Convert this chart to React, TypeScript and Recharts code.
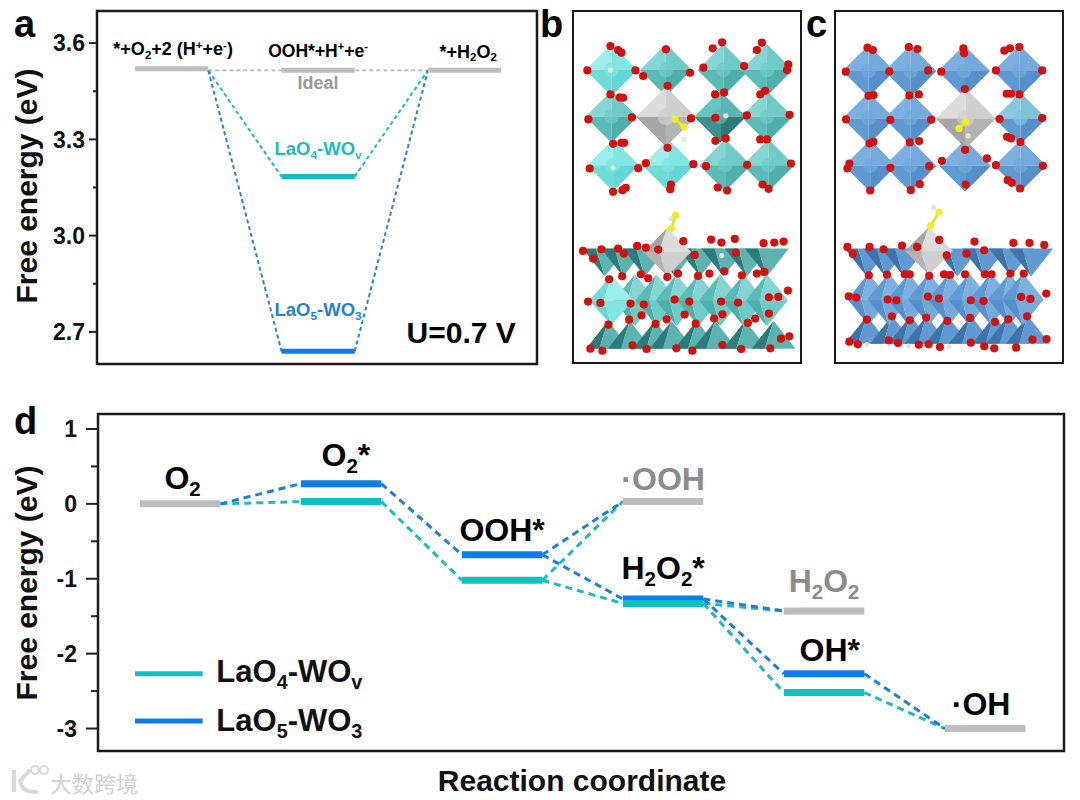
import React from "react";
import {
  LineChart,
  Line,
  XAxis,
  YAxis,
  ReferenceArea,
  ReferenceDot,
  ScatterChart,
  Scatter,
} from "recharts";

const FONT = "'Liberation Sans', Arial, sans-serif";
const CYAN = "#10c0c0";
const BLUE = "#0f7ceb";
const GREY = "#bdbdbd";
const GREY_TEXT = "#8c8c8c";

type Pt = [number, number];

// panel a: U=0.7 V ORR profile
const aTicks = [3.6, 3.45, 3.3, 3.15, 3.0, 2.85, 2.7];
const aMajor = [3.6, 3.3, 3.0, 2.7];
const aIdealLevels: Pt[] = [[0, 3.52], [2, 3.515], [4, 3.515]];
const aLao4Level: Pt = [2, 3.184];
const aLao5Level: Pt = [2, 2.64];
const aIdealLink: Pt[] = [[1, 3.515], [2, 3.515], [3, 3.515], [4, 3.515]];
const aLao4Links: Pt[][] = [
  [[1, 3.515], [2, 3.184]],
  [[3, 3.184], [4, 3.515]],
];
const aLao5Links: Pt[][] = [
  [[1, 3.515], [2, 2.64]],
  [[3, 2.64], [4, 3.515]],
];

// panel d: full reaction pathway
const dTicks = [1, 0.5, 0, -0.5, -1, -1.5, -2, -2.5, -3];
const dMajor = [1, 0, -1, -2, -3];
const dGasLevels: Pt[] = [[0, 0], [6, 0.03], [8, -1.43], [10, -3]];
const dLao4Levels: Pt[] = [[2, 0.03], [4, -1.02], [6, -1.33], [8, -2.52]];
const dLao5Levels: Pt[] = [[2, 0.27], [4, -0.68], [6, -1.27], [8, -2.27]];
const dLao4Links: Pt[][] = [
  [[1, 0], [2, 0.03]],
  [[3, 0.03], [4, -1.02]],
  [[5, -1.02], [6, 0.03]],
  [[5, -1.02], [6, -1.33]],
  [[7, -1.33], [8, -1.43]],
  [[7, -1.33], [8, -2.52]],
  [[9, -2.52], [10, -3]],
];
const dLao5Links: Pt[][] = [
  [[1, 0], [2, 0.27]],
  [[3, 0.27], [4, -0.68]],
  [[5, -0.68], [6, 0.03]],
  [[5, -0.68], [6, -1.27]],
  [[7, -1.27], [8, -1.43]],
  [[7, -1.27], [8, -2.27]],
  [[9, -2.27], [10, -3]],
];

// structure panels, positions
const bTopOcta: Pt[] = [[318, 210], [490, 210], [620, 210], [155, 350], [620, 350], [495, 495], [625, 495]];
const bTopLight: Pt[] = [[155, 210], [160, 495], [325, 495]];
const bTopDark: Pt[] = [[480, 350]];
const bTopGrey: Pt[] = [[318, 350]];
const bSideTop: Pt[] = [[135, 745], [190, 745], [255, 745], [345, 745], [420, 745], [490, 745], [560, 745], [620, 745]];
const bSideMid: Pt[] = [[225, 900], [290, 900], [350, 900], [415, 900], [480, 900], [550, 900], [620, 900]];
const bSideLight: Pt[] = [[155, 900]];
const bSideLow: Pt[] = [[145, 1045], [210, 1045], [285, 1045], [335, 1045], [410, 1045], [465, 1045], [555, 1045], [640, 1045]];
const bOxygen: Pt[] = [
  [152, 138], [175, 150], [185, 158], [318, 148], [458, 145], [486, 127], [605, 128], [590, 150],
  [83, 211], [227, 211], [250, 228], [390, 218], [430, 203], [552, 198], [684, 193], [680, 210],
  [152, 283], [180, 292], [190, 293], [323, 257], [465, 283], [492, 277], [600, 283], [615, 272],
  [86, 358], [216, 352], [393, 355], [466, 353], [560, 346], [688, 344],
  [160, 431], [185, 428], [193, 428], [323, 443], [466, 422], [497, 415], [600, 418], [620, 418],
  [90, 505], [235, 504], [258, 489], [400, 492], [438, 498], [561, 494], [692, 490],
  [160, 575], [188, 570], [198, 563], [333, 553], [331, 567], [473, 562], [501, 571], [607, 553], [625, 566],
  [70, 752], [100, 775], [125, 747], [175, 745], [192, 760], [232, 737], [258, 742], [295, 748], [370, 723], [404, 764], [453, 718], [484, 727], [524, 716], [527, 757], [610, 729], [642, 727], [670, 724],
  [148, 837], [187, 828], [243, 822], [265, 834], [322, 830], [354, 820], [414, 827], [448, 820], [493, 813], [545, 825], [590, 820], [612, 815],
  [85, 904], [122, 908], [212, 910], [252, 913], [344, 898], [388, 904], [483, 904], [534, 907], [626, 891], [654, 890], [683, 871],
  [146, 973], [208, 958], [245, 945], [287, 971], [320, 957], [374, 943], [407, 970], [462, 955], [487, 942], [563, 968], [585, 955], [626, 940],
  [92, 1045], [128, 1051], [218, 1035], [260, 1046], [349, 1044], [397, 1051], [487, 1034], [543, 1046], [630, 1044], [662, 1015], [687, 1008],
];
const bAdsorbates: Pt[][] = [[[345, 357], [372, 380]], [[347, 645], [334, 685]]];
const bHydrogen: Pt[] = [[372, 418], [333, 655], [152, 210], [497, 347], [160, 503], [485, 766], [280, 1053], [555, 1052]];

const cTopOcta: Pt[] = [[925, 213], [1050, 213], [1210, 213], [1375, 213], [925, 355], [1050, 355], [930, 497], [1050, 497], [1213, 497], [1378, 497]];
const cTopLight: Pt[] = [[1378, 355]];
const cTopGrey: Pt[] = [[1215, 355]];
const cSideTop: Pt[] = [[920, 745], [975, 745], [1030, 745], [1190, 745], [1270, 745], [1350, 745], [1410, 745]];
const cSideMid: Pt[] = [[925, 897], [985, 897], [1045, 897], [1105, 897], [1165, 897], [1225, 897], [1290, 897], [1345, 897], [1385, 897]];
const cSideLow: Pt[] = [[920, 1030], [995, 1030], [1050, 1030], [1098, 1030], [1160, 1030], [1230, 1030], [1300, 1030], [1342, 1030], [1400, 1030]];
const cOxygen: Pt[] = [
  [922, 143], [938, 150], [1045, 141], [1071, 147], [1208, 145], [1210, 160], [1330, 152], [1347, 145], [1375, 141],
  [857, 215], [987, 214], [1103, 211], [1142, 215], [1305, 211], [1443, 211],
  [925, 287], [940, 285], [1047, 286], [1075, 283], [1212, 267], [1337, 281], [1350, 281], [1375, 283],
  [858, 358], [990, 359], [1112, 359], [1316, 357], [1443, 354],
  [928, 430], [940, 425], [1048, 427], [1076, 423], [1213, 449], [1338, 410], [1350, 415], [1378, 426],
  [862, 505], [868, 490], [990, 503], [1106, 498], [1144, 482], [1278, 475], [1305, 495], [1445, 497],
  [930, 571], [1051, 570], [1078, 552], [1215, 553], [1340, 540], [1352, 548], [1377, 565],
  [862, 740], [878, 761], [928, 740], [970, 747], [1025, 736], [1070, 740], [1136, 719], [1158, 765], [1217, 760], [1241, 724], [1270, 750], [1357, 728], [1405, 728], [1449, 734],
  [926, 825], [980, 823], [1033, 822], [1048, 822], [1106, 827], [1150, 822], [1168, 824], [1213, 822], [1272, 822], [1292, 822], [1348, 820], [1388, 820],
  [866, 888], [888, 892], [982, 898], [1008, 900], [1102, 889], [1135, 895], [1230, 900], [1268, 902], [1380, 890], [1408, 896], [1455, 880],
  [920, 958], [995, 948], [1048, 960], [1097, 952], [1160, 962], [1228, 953], [1302, 965], [1342, 957], [1398, 948],
  [868, 1024], [893, 1032], [985, 1020], [1013, 1028], [1075, 1033], [1104, 1032], [1138, 1040], [1230, 1027], [1270, 1038], [1300, 1044], [1365, 1042], [1414, 1018], [1456, 1016],
];
const cAdsorbates: Pt[][] = [[[1215, 365], [1195, 385]], [[1135, 636], [1110, 677]]];
const cHydrogen: Pt[] = [[1222, 407], [1120, 622], [920, 1033], [1045, 1037], [1165, 1040], [1295, 1046]];

const toRows = (pts: Pt[]) => pts.map(([x, y]) => ({ x, y }));

// "O_2^+" style markup to tspans
function RichText({ x, y, text, size, fill, anchor = "middle" }: any) {
  const tokens: string[] = text.match(/[_^].|[^_^]+/g) || [];
  let back = 0;
  return (
    <text x={x} y={y} textAnchor={anchor} fill={fill} fontFamily={FONT} fontWeight="bold" fontSize={size} style={{ whiteSpace: "pre" }}>
      {tokens.map((t, i) => {
        const kind = t[0];
        let dy = back;
        if (kind === "_" || kind === "^") {
          const shift = kind === "_" ? size * 0.22 : -size * 0.36;
          dy = back + shift;
          back = -shift;
          return (
            <tspan key={i} dy={dy} fontSize={size * 0.64}>
              {t[1]}
            </tspan>
          );
        }
        back = 0;
        return (
          <tspan key={i} dy={dy}>
            {t}
          </tspan>
        );
      })}
    </text>
  );
}

const note = (x: number, y: number, text: string, size: number, fill = "#000", anchor = "middle") => (
  <ReferenceDot
    key={text + x}
    x={x}
    y={y}
    r={0}
    ifOverflow="visible"
    shape={(p: any) => <RichText x={p.cx} y={p.cy} text={text} size={size} fill={fill} anchor={anchor} />}
  />
);

const yTick = (major: number[], digits: number, size: number, long: number, short: number, gap: number) => (p: any) => {
  const v = p.payload.value;
  const isMajor = major.includes(v);
  return (
    <g>
      <line x1={p.x - (isMajor ? long : short)} x2={p.x} y1={p.y} y2={p.y} stroke="#222" strokeWidth={2} />
      {isMajor && (
        <text x={p.x - gap} y={p.y + size * 0.36} textAnchor="end" fontFamily={FONT} fontWeight="bold" fontSize={size} fill="#111">
          {digits ? v.toFixed(digits) : String(v)}
        </text>
      )}
    </g>
  );
};

const segment = (key: string, pts: Pt[], color: string, width: number, dash?: string) => (
  <Line
    key={key}
    data={toRows(pts)}
    dataKey="y"
    stroke={color}
    strokeWidth={width}
    strokeDasharray={dash}
    dot={false}
    activeDot={false}
    isAnimationActive={false}
    legendType="none"
  />
);

const level = (key: string, [x, y]: Pt, color: string, width: number) =>
  segment(key, [[x, y], [x + 1, y]], color, width);

function PanelA() {
  return (
    <LineChart width={545} height={375} margin={{ top: 11, right: 8, bottom: 11, left: 0 }}>
      <XAxis type="number" dataKey="x" domain={[-0.52, 5.49]} hide />
      <YAxis
        type="number"
        width={97}
        domain={[2.6, 3.7]}
        ticks={aTicks}
        interval={0}
        tickSize={0}
        tickMargin={0}
        axisLine={false}
        tick={yTick(aMajor, 1, 23, 8, 4, 12)}
      />
      <ReferenceArea x1={-0.52} x2={5.49} y1={2.6} y2={3.7} fill="none" stroke="#1a1a1a" strokeWidth={2.5} />
      {segment("ideal-link", aIdealLink, "#b5b5b5", 1.6, "4 3")}
      {aLao4Links.map((l, i) => segment(`a4-${i}`, l, "#1cbcbc", 2, "4 3"))}
      {aLao5Links.map((l, i) => segment(`a5-${i}`, l, "#2a80d8", 2, "4 3"))}
      {aIdealLevels.map((l, i) => level(`ai-${i}`, l, GREY, 5))}
      {level("a4", aLao4Level, CYAN, 5)}
      {level("a5", aLao5Level, BLUE, 5)}
      {note(0.52, 3.5625, "*+O_2+2 (H^++e^-)", 18)}
      {note(2.5, 3.558, "OOH*+H^++e^-", 17.5)}
      {note(4.55, 3.555, "*+H_2O_2", 18)}
      {note(2.5, 3.456, "Ideal", 18, "#9a9a9a")}
      {note(2.5, 3.25, "LaO_4-WO_v", 18.5, "#1cbcbc")}
      {note(2.5, 2.75, "LaO_5-WO_3", 18.5, "#1f80e0")}
      {note(5.2, 2.665, "U=0.7 V", 30, "#000", "end")}
    </LineChart>
  );
}

function PanelD() {
  return (
    <LineChart width={1072} height={762} margin={{ top: 414, right: 8, bottom: 11, left: 0 }}>
      <XAxis type="number" dataKey="x" domain={[-0.52, 11.48]} hide />
      <YAxis
        type="number"
        width={98}
        domain={[-3.3, 1.2]}
        ticks={dTicks}
        interval={0}
        tickSize={0}
        tickMargin={0}
        axisLine={false}
        tick={yTick(dMajor, 0, 23, 12, 7, 21)}
      />
      <ReferenceArea x1={-0.52} x2={11.48} y1={-3.3} y2={1.2} fill="none" stroke="#1a1a1a" strokeWidth={2.5} />
      {dLao4Links.map((l, i) => segment(`d4-${i}`, l, "#1cbcbc", 3, "7 5"))}
      {dLao5Links.map((l, i) => segment(`d5-${i}`, l, "#1a7fe0", 3, "7 5"))}
      {dGasLevels.map((l, i) => level(`dg-${i}`, l, GREY, 7))}
      {dLao5Levels.map((l, i) => level(`d5l-${i}`, l, BLUE, 7))}
      {dLao4Levels.map((l, i) => level(`d4l-${i}`, l, CYAN, 7))}
      {segment("legend-4", [[-0.06, -2.27], [0.78, -2.27]], CYAN, 5)}
      {segment("legend-5", [[-0.06, -2.9], [0.78, -2.9]], BLUE, 5)}
      {note(0.53, 0.2, "O_2", 32)}
      {note(2.56, 0.5, "O_2*", 32)}
      {note(4.5, -0.49, "OOH*", 32)}
      {note(6.5, 0.19, "·OOH", 32, GREY_TEXT)}
      {note(6.5, -1.0, "H_2O_2*", 32)}
      {note(8.5, -1.18, "H_2O_2", 32, GREY_TEXT)}
      {note(8.57, -2.1, "OH*", 32)}
      {note(10.45, -2.82, "·OH", 32)}
      {note(0.95, -2.38, "LaO_4-WO_v", 31, "#111", "start")}
      {note(0.95, -3.03, "LaO_5-WO_3", 31, "#111", "start")}
    </LineChart>
  );
}

const octa = (r: number, colors: string[]) => (p: any) => {
  const { cx, cy } = p;
  return (
    <g>
      <polygon points={`${cx - r},${cy} ${cx},${cy - r} ${cx},${cy}`} fill={colors[0]} />
      <polygon points={`${cx},${cy - r} ${cx + r},${cy} ${cx},${cy}`} fill={colors[1]} />
      <polygon points={`${cx - r},${cy} ${cx},${cy + r} ${cx},${cy}`} fill={colors[2]} />
      <polygon points={`${cx + r},${cy} ${cx},${cy + r} ${cx},${cy}`} fill={colors[3]} />
      <circle cx={cx} cy={cy} r={r * 0.28} fill={colors[1]} opacity={0.7} />
    </g>
  );
};

const sideDiamond = (rx: number, ry: number, colors: string[]) => (p: any) => {
  const { cx, cy } = p;
  const m = cx - rx * 0.35;
  return (
    <g>
      <polygon points={`${cx - rx},${cy} ${cx},${cy - ry} ${m},${cy}`} fill={colors[2]} />
      <polygon points={`${cx},${cy - ry} ${cx + rx},${cy} ${m},${cy}`} fill={colors[0]} />
      <polygon points={`${cx - rx},${cy} ${cx},${cy + ry} ${m},${cy}`} fill={colors[3]} />
      <polygon points={`${cx + rx},${cy} ${cx},${cy + ry} ${m},${cy}`} fill={colors[1]} />
    </g>
  );
};

// cy is the base of the pyramid, dir -1 points up, +1 points down
const pyramid = (rx: number, h: number, dir: number, colors: string[]) => (p: any) => {
  const { cx, cy } = p;
  const m = cx - rx * 0.4;
  return (
    <g>
      <polygon points={`${cx - rx},${cy} ${cx},${cy + dir * h} ${m},${cy}`} fill={colors[3]} />
      <polygon points={`${m},${cy} ${cx},${cy + dir * h} ${cx + rx},${cy}`} fill={colors[1]} />
    </g>
  );
};

const atom = (r: number, fill: string) => (p: any) => <circle cx={p.cx} cy={p.cy} r={r} fill={fill} />;

const GREY_FACETS = ["#dcdcdc", "#cfcfcf", "#a6a6a6", "#b4b4b4"];

function Structure({ left, xDomain, colors, light, dark, top, topLight, topDark, grey, sideTop, sideMid, sideLight, sideLow, kite, oxygen, adsorbates, hydrogen }: any) {
  const series = (key: string, pts: Pt[], shape: any, extra: any = {}) => (
    <Scatter key={key} data={toRows(pts)} dataKey="y" shape={shape} isAnimationActive={false} legendType="none" {...extra} />
  );
  return (
    <div style={{ position: "absolute", left, top: 9 }}>
      <ScatterChart width={232} height={356} margin={{ top: 2, right: 2, bottom: 2, left: 2 }}>
        <XAxis type="number" dataKey="x" domain={xDomain} hide />
        <YAxis type="number" dataKey="y" domain={[33, 1088]} reversed hide />
        {series("top", top, octa(26, colors))}
        {series("toplight", topLight, octa(26, light))}
        {series("topdark", topDark, octa(26, dark))}
        {series("grey", grey, octa(30, GREY_FACETS))}
        {series("low", sideLow, pyramid(22, 28, -1, dark))}
        {series("mid", sideMid, sideDiamond(21, 26, colors))}
        {series("sidelight", sideLight, sideDiamond(22, 25, light))}
        {series("sidetop", sideTop, pyramid(22, 28, 1, dark))}
        {series("kite", kite, sideDiamond(24, 24, GREY_FACETS))}
        {series("h", hydrogen, atom(2.6, "#e4e4e4"))}
        {series("o", oxygen, atom(4.1, "#d4110f"))}
        {adsorbates.map((a: Pt[], i: number) =>
          series(`ads-${i}`, a, atom(3.6, "#eeee22"), { line: { stroke: "#e6e622", strokeWidth: 3 } })
        )}
        <ReferenceArea x1={xDomain[0]} x2={xDomain[1]} y1={33} y2={1088} fill="none" stroke="#1a1a1a" strokeWidth={2} />
      </ScatterChart>
    </div>
  );
}

const cyanFacets = ["#85d6d2", "#6fcbc6", "#5bbcb7", "#4fb0ab"];
const cyanLight = ["#9ceeea", "#7fe6e2", "#6fdcd8", "#62d8d4"];
const cyanDark = ["#66c6c2", "#5cb4b0", "#3c908e", "#2f7b7b"];
const blueFacets = ["#7cb0e0", "#74a9dc", "#5f9ad2", "#5590cb"];
const blueLight = ["#8cc6e0", "#7cc4d8", "#5f9ad2", "#5590cb"];
const blueDark = ["#6ba3da", "#6199d2", "#4279ae", "#3f74aa"];

const letter = (text: string, left: number, top: number) => (
  <div style={{ position: "absolute", left, top, fontFamily: FONT, fontWeight: "bold", fontSize: 38, lineHeight: "38px", color: "#000" }}>{text}</div>
);

const yTitle = (text: string, cx: number, cy: number) => (
  <div
    style={{
      position: "absolute",
      left: cx,
      top: cy,
      transform: "translate(-50%,-50%) rotate(-90deg)",
      fontFamily: FONT,
      fontWeight: "bold",
      fontSize: 30,
      whiteSpace: "nowrap",
      color: "#111",
    }}
  >
    {text}
  </div>
);

export default function App() {
  return (
    <div style={{ position: "absolute", left: 0, top: 0, width: 1080, height: 800, background: "#fff", overflow: "hidden" }}>
      <div style={{ position: "absolute", left: 0, top: 0 }}>
        <PanelD />
      </div>
      <div style={{ position: "absolute", left: 0, top: 0 }}>
        <PanelA />
      </div>
      <Structure
        left={571}
        xDomain={[40, 722]}
        colors={cyanFacets}
        light={cyanLight}
        dark={cyanDark}
        top={bTopOcta}
        topLight={bTopLight}
        topDark={bTopDark}
        grey={bTopGrey}
        sideTop={bSideTop}
        sideMid={bSideMid}
        sideLight={bSideLight}
        sideLow={bSideLow}
        kite={[[322, 755]]}
        oxygen={bOxygen}
        adsorbates={bAdsorbates}
        hydrogen={bHydrogen}
      />
      <Structure
        left={833}
        xDomain={[825, 1505]}
        colors={blueFacets}
        light={blueLight}
        dark={blueDark}
        top={cTopOcta}
        topLight={cTopLight}
        topDark={[]}
        grey={cTopGrey}
        sideTop={cSideTop}
        sideMid={cSideMid}
        sideLight={[]}
        sideLow={cSideLow}
        kite={[[1105, 752]]}
        oxygen={cOxygen}
        adsorbates={cAdsorbates}
        hydrogen={cHydrogen}
      />
      {letter("a", 14, 5)}
      {letter("b", 540, 5)}
      {letter("c", 806, 5)}
      {letter("d", 14, 402)}
      {yTitle("Free energy (eV)", 27, 186)}
      {yTitle("Free energy (eV)", 27, 583)}
      <div style={{ position: "absolute", left: 582, top: 764, transform: "translateX(-50%)", fontFamily: FONT, fontWeight: "bold", fontSize: 30, whiteSpace: "nowrap", color: "#111" }}>
        Reaction coordinate
      </div>
      <svg width={42} height={36} style={{ position: "absolute", left: 8, top: 762 }}>
        <path d="M6 8 L6 30 M22 8 L12 19 Q14 31 30 30" fill="none" stroke="#d8d8d8" strokeWidth={4} />
        <circle cx={27} cy={8} r={4} fill="none" stroke="#d8d8d8" strokeWidth={2} />
        <circle cx={36} cy={8} r={4} fill="none" stroke="#d8d8d8" strokeWidth={2} />
      </svg>
      <div style={{ position: "absolute", left: 50, top: 766, fontFamily: "'Noto Sans CJK SC'", fontSize: 22, color: "#d2d2d2", whiteSpace: "nowrap" }}>大数跨境</div>
    </div>
  );
}
